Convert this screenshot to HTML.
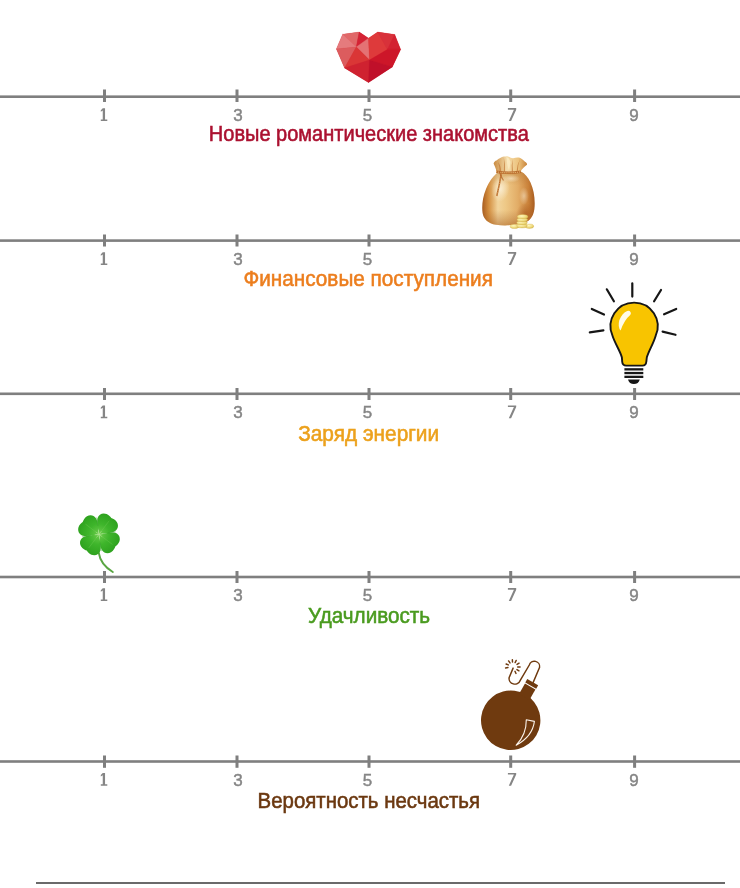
<!DOCTYPE html>
<html><head><meta charset="utf-8">
<style>
html,body{margin:0;padding:0;background:#fff;width:740px;height:888px;overflow:hidden}
svg{display:block;will-change:transform}
text{font-family:"Liberation Sans",sans-serif}
.d{font-size:17px;fill:#858585;stroke:#858585;stroke-width:0.45px;text-anchor:middle}
.l{font-size:21.3px;text-anchor:middle;stroke-width:0.55px}
</style></head><body>
<svg width="740" height="888" viewBox="0 0 740 888">
<g id="axes" fill="#7f7f7f">
  <!-- axis 1 -->
  <rect x="0" y="95.4" width="740" height="2.6"/>
  <rect x="103" y="89.5" width="3" height="12.5"/>
  <rect x="235.5" y="89.5" width="3" height="12.5"/>
  <rect x="367.5" y="89.5" width="3" height="12.5"/>
  <rect x="509.2" y="89.5" width="3" height="12.5"/>
  <rect x="633.1" y="89.5" width="3" height="12.5"/>
  <!-- axis 2 -->
  <rect x="0" y="239.3" width="740" height="2.6"/>
  <rect x="103" y="234.5" width="3" height="12"/>
  <rect x="235.5" y="234.5" width="3" height="12"/>
  <rect x="367.5" y="234.5" width="3" height="12"/>
  <rect x="509.2" y="234.5" width="3" height="12"/>
  <rect x="633.1" y="234.5" width="3" height="12"/>
  <!-- axis 3 -->
  <rect x="0" y="392.5" width="740" height="2.6"/>
  <rect x="103" y="388" width="3" height="12"/>
  <rect x="235.5" y="388" width="3" height="12"/>
  <rect x="367.5" y="388" width="3" height="12"/>
  <rect x="509.2" y="388" width="3" height="12"/>
  <rect x="633.1" y="388" width="3" height="12"/>
  <!-- axis 4 -->
  <rect x="0" y="575.7" width="740" height="2.6"/>
  <rect x="103" y="571" width="3" height="12"/>
  <rect x="235.5" y="571" width="3" height="12"/>
  <rect x="367.5" y="571" width="3" height="12"/>
  <rect x="509.2" y="571" width="3" height="12"/>
  <rect x="633.1" y="571" width="3" height="12"/>
  <!-- axis 5 -->
  <rect x="0" y="760.2" width="740" height="2.6"/>
  <rect x="103" y="755.5" width="3" height="12.3"/>
  <rect x="235.5" y="755.5" width="3" height="12.3"/>
  <rect x="367.5" y="755.5" width="3" height="12.3"/>
  <rect x="509.2" y="755.5" width="3" height="12.3"/>
  <rect x="633.1" y="755.5" width="3" height="12.3"/>
  <!-- bottom rule -->
  <rect x="36" y="882" width="689" height="2" fill="#6a6a6a"/>
</g>
<g id="digits">
  <g transform="translate(0,121)"><text class="d" x="238">3</text><text class="d" x="367.6">5</text><text class="d" x="634">9</text></g>
  <g transform="translate(0,265)"><text class="d" x="238">3</text><text class="d" x="367.6">5</text><text class="d" x="634">9</text></g>
  <g transform="translate(0,418.3)"><text class="d" x="238">3</text><text class="d" x="367.6">5</text><text class="d" x="634">9</text></g>
  <g transform="translate(0,601)"><text class="d" x="238">3</text><text class="d" x="367.6">5</text><text class="d" x="634">9</text></g>
  <g transform="translate(0,785.8)"><text class="d" x="238">3</text><text class="d" x="367.6">5</text><text class="d" x="634">9</text></g>
</g>
<g id="ones" fill="#858585">
  <defs><g id="one"><path d="M -1.25,0.2 L 1.05,0.2 L 1.05,11.4 L 3.3,11.4 L 3.3,13 L -3.2,13 L -3.2,11.4 L -1.25,11.4 L -1.25,2.4 L -3.2,3.7 L -3.2,2.3 Z"/></g></defs>
  <use href="#one" x="104" y="108"/>
  <use href="#one" x="104" y="252"/>
  <use href="#one" x="104" y="405.3"/>
  <use href="#one" x="104" y="588"/>
  <use href="#one" x="104" y="772.8"/>
</g>
<g id="sevens" fill="#858585">
  <defs><path id="seven" d="M -4.1,0.1 L 4.2,0.1 L 4.2,1.8 L -0.9,13 L -3.2,13 L 1.9,1.8 L -4.1,1.8 Z"/></defs>
  <use href="#seven" x="512" y="108"/>
  <use href="#seven" x="512" y="252"/>
  <use href="#seven" x="512" y="405.3"/>
  <use href="#seven" x="512" y="588"/>
  <use href="#seven" x="512" y="772.8"/>
</g>
<g id="labels">
  <text class="l" x="368.8" y="141" fill="#ab1130" stroke="#ab1130" textLength="320" lengthAdjust="spacingAndGlyphs">Новые романтические знакомства</text>
  <text class="l" x="368.2" y="286.3" fill="#ec7e1e" stroke="#ec7e1e" textLength="249.5" lengthAdjust="spacingAndGlyphs">Финансовые поступления</text>
  <text class="l" x="368.65" y="441" fill="#eca11c" stroke="#eca11c" textLength="141" lengthAdjust="spacingAndGlyphs">Заряд энергии</text>
  <text class="l" x="369.1" y="623.1" fill="#4a9b1f" stroke="#4a9b1f" textLength="122" lengthAdjust="spacingAndGlyphs">Удачливость</text>
  <text class="l" x="368.8" y="807.5" fill="#6b3810" stroke="#6b3810" textLength="222.5" lengthAdjust="spacingAndGlyphs">Вероятность несчастья</text>
</g>
<g id="icons">
<g id="heart">
  <polygon points="342.7,34.3 359.2,32.1 368.5,38.2 377.7,32.1 394.7,34.6 400.6,49.4 392.3,66.9 368.5,82.5 344.6,67.9 336.4,48.9" fill="#d42c36"/>
  <!-- A(342.7,34.3) B(359.2,32.1) C(368.5,38.2) D(377.7,32.1) E(394.7,34.6) F(400.6,49.4) G(392.3,66.9) H(368.5,82.5) I(344.6,67.9) J(336.4,48.9) K(356.3,47) M(369.5,60.1) N(387.4,49.4) -->
  <polygon stroke-width="0.35" stroke-linejoin="round" points="342.7,34.3 359.2,32.1 356.3,47" fill="#e06868" stroke="#e06868"/>
  <polygon stroke-width="0.35" stroke-linejoin="round" points="359.2,32.1 368.5,38.2 356.3,47" fill="#d42335" stroke="#d42335"/>
  <polygon stroke-width="0.35" stroke-linejoin="round" points="342.7,34.3 356.3,47 336.4,48.9" fill="#e57b7d" stroke="#e57b7d"/>
  <polygon stroke-width="0.35" stroke-linejoin="round" points="336.4,48.9 356.3,47 344.6,67.9" fill="#dc5c5e" stroke="#dc5c5e"/>
  <polygon stroke-width="0.35" stroke-linejoin="round" points="356.3,47 368.5,38.2 369.5,60.1" fill="#e47274" stroke="#e47274"/>
  <polygon stroke-width="0.35" stroke-linejoin="round" points="356.3,47 369.5,60.1 344.6,67.9" fill="#da3636" stroke="#da3636"/>
  <polygon stroke-width="0.35" stroke-linejoin="round" points="344.6,67.9 369.5,60.1 368.5,82.5" fill="#cf2230" stroke="#cf2230"/>
  <polygon stroke-width="0.35" stroke-linejoin="round" points="368.5,38.2 377.7,32.1 387.4,49.4 369.5,60.1" fill="#de3a3b" stroke="#de3a3b"/>
  <polygon stroke-width="0.35" stroke-linejoin="round" points="377.7,32.1 394.7,34.6 387.4,49.4" fill="#d8313a" stroke="#d8313a"/>
  <polygon stroke-width="0.35" stroke-linejoin="round" points="394.7,34.6 400.6,49.4 387.4,49.4" fill="#d32232" stroke="#d32232"/>
  <polygon stroke-width="0.35" stroke-linejoin="round" points="387.4,49.4 400.6,49.4 392.3,66.9 369.5,60.1" fill="#cd1629" stroke="#cd1629"/>
  <polygon stroke-width="0.35" stroke-linejoin="round" points="369.5,60.1 392.3,66.9 368.5,82.5" fill="#c0102a" stroke="#c0102a"/>
</g>
<g id="bulb">
  <g stroke="#161616" stroke-width="2.2" stroke-linecap="round">
    <line x1="632.3" y1="283.4" x2="632.3" y2="296.6"/>
    <line x1="606.8" y1="289.3" x2="613.9" y2="301.3"/>
    <line x1="661" y1="290" x2="654.1" y2="301.3"/>
    <line x1="591.8" y1="309" x2="604" y2="314.6"/>
    <line x1="676.2" y1="309" x2="664.1" y2="314.3"/>
    <line x1="589.8" y1="332.3" x2="603.4" y2="330.4"/>
    <line x1="662.6" y1="331.6" x2="675.5" y2="334.8"/>
  </g>
  <path d="M 612.5,335.7 A 23.6 23.6 0 1 1 655.7,335.7 C 653.3,344 648.3,351.5 646.8,357.5 L 646.3,361.8 Q 646,365.6 642.4,365.6 L 626.2,365.6 Q 622.5,365.6 622.2,361.8 L 621.9,357.5 C 620.5,351.5 615.2,344 612.5,335.7 Z" fill="#f8c400" stroke="#161616" stroke-width="1.9" stroke-linejoin="round"/>
  <path d="M 629.6,310.9 Q 631.8,312.6 630.2,315 Q 624.2,320 620.6,330.6 Q 617.6,327 619.3,320.3 Q 622.3,312.8 627.2,310.9 Q 628.6,310.4 629.6,310.9 Z" fill="#fffbe8"/>
  <g fill="#161616">
    <rect x="624.4" y="368.2" width="18.9" height="2.3"/>
    <rect x="624.4" y="371.9" width="18.9" height="2.3"/>
    <rect x="624.4" y="375.7" width="18.9" height="2.3"/>
    <path d="M 628,379.4 L 639.8,379.4 Q 638.5,383.9 633.9,383.9 Q 629.3,383.9 628,379.4 Z"/>
  </g>
</g>
<g id="clover">
  <defs>
    <radialGradient id="cg" cx="0" cy="0" r="21" gradientUnits="userSpaceOnUse">
      <stop offset="0" stop-color="#6ccc4c"/>
      <stop offset="0.5" stop-color="#3eb52b"/>
      <stop offset="1" stop-color="#2fa31f"/>
    </radialGradient>
  </defs>
  <path d="M 98.8,553 Q 100.5,564.5 112.8,572" fill="none" stroke="#5aa643" stroke-width="1.9" stroke-linecap="round"/>
  <g transform="translate(99,534.3) rotate(37)" fill="url(#cg)">
    <path id="leaf" d="M 0,0 C 4,-3.5 7.5,-9 12,-10.9 C 17,-12.8 21.6,-8.5 21,-3 Q 20.8,-0.8 20.4,0 Q 20.8,0.8 21,3 C 21.6,8.5 17,12.8 12,10.9 C 7.5,9 4,3.5 0,0 Z"/>
    <use href="#leaf" transform="rotate(90)"/>
    <use href="#leaf" transform="rotate(180)"/>
    <use href="#leaf" transform="rotate(270)"/>
    <g stroke="#2a9420" stroke-width="0.6" opacity="0.6"><line x1="6" y1="6" x2="12" y2="12"/><line x1="-6" y1="6" x2="-12" y2="12"/><line x1="6" y1="-6" x2="12" y2="-12"/><line x1="-6" y1="-6" x2="-12" y2="-12"/></g>
    <g stroke="#86d466" stroke-width="0.8" opacity="0.3">
      <line x1="0" y1="0" x2="17" y2="0"/><line x1="0" y1="0" x2="0" y2="17"/><line x1="0" y1="0" x2="-17" y2="0"/><line x1="0" y1="0" x2="0" y2="-17"/>
    </g>
    <g stroke="#b8e89a" stroke-width="0.6" opacity="0.8">
      <line x1="-3" y1="-3" x2="3" y2="3"/><line x1="-3" y1="3" x2="3" y2="-3"/><line x1="-4" y1="0" x2="4" y2="0"/><line x1="0" y1="-4" x2="0" y2="4"/>
    </g>
  </g>
</g>
<g id="bag">
  <defs>
    <linearGradient id="bagg" x1="482" y1="0" x2="535" y2="0" gradientUnits="userSpaceOnUse">
      <stop offset="0" stop-color="#a65a1e"/>
      <stop offset="0.12" stop-color="#d28c3c"/>
      <stop offset="0.3" stop-color="#f2d49c"/>
      <stop offset="0.45" stop-color="#eec886"/>
      <stop offset="0.68" stop-color="#e2ac66"/>
      <stop offset="0.88" stop-color="#c98038"/>
      <stop offset="1" stop-color="#a65a1e"/>
    </linearGradient>
    <radialGradient id="baghl" cx="0.5" cy="0.5" r="0.5">
      <stop offset="0" stop-color="#fbf0d8" stop-opacity="0.85"/>
      <stop offset="1" stop-color="#fbf0d8" stop-opacity="0"/>
    </radialGradient>
    <radialGradient id="bagdk" cx="0.5" cy="0.5" r="0.5">
      <stop offset="0" stop-color="#a8561c" stop-opacity="0.6"/>
      <stop offset="1" stop-color="#a8561c" stop-opacity="0"/>
    </radialGradient>
    <clipPath id="bagclip"><path d="M 498.8,171.8 C 494,175 489.5,181 486,189 C 482.5,197 481.6,207 482.6,213 C 483.6,219 488,223.5 496,224.8 C 503,225.8 513,225.6 522,223.6 C 529,222 533.4,217 534.4,209 C 535.4,200 534,190 530.5,182.5 C 528,177 524.5,173.5 521.3,171.8 Z"/></clipPath>
    <linearGradient id="bagv" x1="0" y1="172" x2="0" y2="226" gradientUnits="userSpaceOnUse">
      <stop offset="0" stop-color="#a0621e" stop-opacity="0.3"/>
      <stop offset="0.25" stop-color="#a86a34" stop-opacity="0"/>
      <stop offset="0.7" stop-color="#a86a34" stop-opacity="0"/>
      <stop offset="1" stop-color="#a05212" stop-opacity="0.5"/>
    </linearGradient>
    <linearGradient id="rufg" x1="0" y1="0" x2="1" y2="0">
      <stop offset="0" stop-color="#c98a40"/>
      <stop offset="0.4" stop-color="#f5dcaa"/>
      <stop offset="0.75" stop-color="#ecc27c"/>
      <stop offset="1" stop-color="#c8843c"/>
    </linearGradient>
    <radialGradient id="coing" cx="0.4" cy="0.35" r="0.7">
      <stop offset="0" stop-color="#fff6c0"/>
      <stop offset="0.6" stop-color="#f0dc80"/>
      <stop offset="1" stop-color="#d6b84c"/>
    </radialGradient>
  </defs>
  <path d="M 498.8,171.8 C 494,175 489.5,181 486,189 C 482.5,197 481.6,207 482.6,213 C 483.6,219 488,223.5 496,224.8 C 503,225.8 513,225.6 522,223.6 C 529,222 533.4,217 534.4,209 C 535.4,200 534,190 530.5,182.5 C 528,177 524.5,173.5 521.3,171.8 Z" fill="url(#bagg)"/>
  <path d="M 498.8,171.8 C 494,175 489.5,181 486,189 C 482.5,197 481.6,207 482.6,213 C 483.6,219 488,223.5 496,224.8 C 503,225.8 513,225.6 522,223.6 C 529,222 533.4,217 534.4,209 C 535.4,200 534,190 530.5,182.5 C 528,177 524.5,173.5 521.3,171.8 Z" fill="url(#bagv)"/>
  <g clip-path="url(#bagclip)"><ellipse cx="526" cy="214" rx="10" ry="11" fill="url(#bagdk)"/>
  <ellipse cx="500.5" cy="189" rx="9" ry="13" fill="url(#baghl)" transform="rotate(12 500.5 189)"/>
  <ellipse cx="524" cy="196" rx="5" ry="9" fill="url(#baghl)" opacity="0.6"/>
  <ellipse cx="511" cy="178.5" rx="9" ry="4" fill="url(#baghl)" opacity="0.7"/></g>
  
  <path d="M 496.5,171.8 C 496,168.5 494.5,166 493.6,163.6 C 494.3,161.5 495.2,160.6 496.5,160.4 C 499,158.8 501.5,157.2 503.8,156.6 C 505.5,156.2 507,155.9 508.2,156.4 C 510,157.2 511.5,158 513,158.3 C 515.5,157.6 518,157.4 520.3,157.9 C 522.5,159.2 524.2,160.6 525,161.8 C 526.5,162.6 527.2,163.6 527,164.8 C 524.5,166.8 521.6,169 520.6,171.8 Z" fill="url(#rufg)"/>
  <g fill="#c27a38" opacity="0.75">
    <path d="M 498,162 Q 501,165.5 501,171.5 L 499.6,171.5 Q 499.5,166.5 498,162 Z"/>
    <path d="M 503.8,157.5 Q 505.5,164 505,171.5 L 503.8,171.5 Q 504.2,164 503.8,157.5 Z"/>
    <path d="M 513,159 Q 512,165 513,171.5 L 511.8,171.5 Q 511,165 513,159 Z"/>
    <path d="M 520,159 Q 517.8,165 517.8,171.5 L 516.6,171.5 Q 516.8,165 520,159 Z"/>
  </g>
  <g fill="#fbecc4" opacity="0.8">
    <path d="M 506.5,157 Q 509.5,158 510.5,162 Q 510,167 509,170.5 Q 507,166 506.5,157 Z"/>
  </g>
  <path d="M 496.2,171.8 Q 508.5,173.8 520.8,171.8" stroke="#b8692a" stroke-width="2.4" fill="none"/>
  <path d="M 496.2,171.8 Q 508.5,173.8 520.8,171.8" stroke="#f3cf8a" stroke-width="1" stroke-dasharray="1 0.9" fill="none"/>
  <path d="M 501.5,172.5 Q 499.8,183 496.8,196" stroke="#b8692a" stroke-width="1.5" fill="none"/>
  <path d="M 501.5,172.5 Q 499.8,183 496.8,196" stroke="#f0c47a" stroke-width="0.6" stroke-dasharray="0.9 0.9" fill="none"/>
  <path d="M 499.5,172 Q 501,177 503.5,180.5" stroke="#b8692a" stroke-width="1.2" fill="none" opacity="0.8"/>
  <g fill="url(#coing)" stroke="#d2b050" stroke-width="0.3">
    <ellipse cx="514.5" cy="226.4" rx="4.5" ry="2.1"/>
    <ellipse cx="529.5" cy="226.2" rx="4.2" ry="2.2"/>
    <ellipse cx="522" cy="225.8" rx="5.2" ry="2.2"/>
    <ellipse cx="522" cy="222.7" rx="5.4" ry="2.2"/>
    <ellipse cx="522.3" cy="219.7" rx="5.4" ry="2.2"/>
    <ellipse cx="522.6" cy="216.7" rx="5.4" ry="2.3"/>
  </g>
</g>
<g id="bomb">
  <g fill="none" stroke="#6f3a0f" stroke-width="1.45" stroke-linecap="round">
    <path d="M 533.2,682.4 L 539.6,667.4 A 5.3 5.3 0 0 0 529.3,665 L 520.1,680.6 A 5.75 5.75 0 0 1 509.1,677.6 L 513.1,668.1"/>
  </g>
  <g stroke="#6f3a0f" stroke-width="1.45" stroke-linecap="round">
    <line x1="507.95" y1="667.58" x2="505.57" y2="667.92"/>
    <line x1="508.31" y1="664.95" x2="506.11" y2="663.99"/>
    <line x1="509.99" y1="662.89" x2="508.61" y2="660.92"/>
    <line x1="512.50" y1="662.01" x2="512.35" y2="659.61"/>
    <line x1="515.10" y1="662.57" x2="516.23" y2="660.45"/>
    <line x1="517.02" y1="664.41" x2="519.09" y2="663.19"/>
    <line x1="517.70" y1="666.99" x2="520.10" y2="667.03"/>
    <line x1="516.93" y1="669.53" x2="518.96" y2="670.82"/>
    <line x1="514.95" y1="671.30" x2="516.00" y2="673.46"/>
  </g>
  <g transform="translate(510.7,720.3) rotate(30)" fill="#6f3a0f">
    <circle cx="0" cy="0" r="29.7"/>
    <rect x="-6" y="-39" width="12" height="12"/>
    <rect x="-6.3" y="-44" width="12.6" height="3.9"/>
  </g>
  <path d="M 526.3,719.8 L 534.4,721.4 Q 532.5,736.5 516.2,745.2 Q 526.5,734.5 526.3,719.8 Z" fill="none" stroke="#fbf3ea" stroke-width="1.1" stroke-linejoin="round"/>
</g>
</g>
</svg>
</body></html>
